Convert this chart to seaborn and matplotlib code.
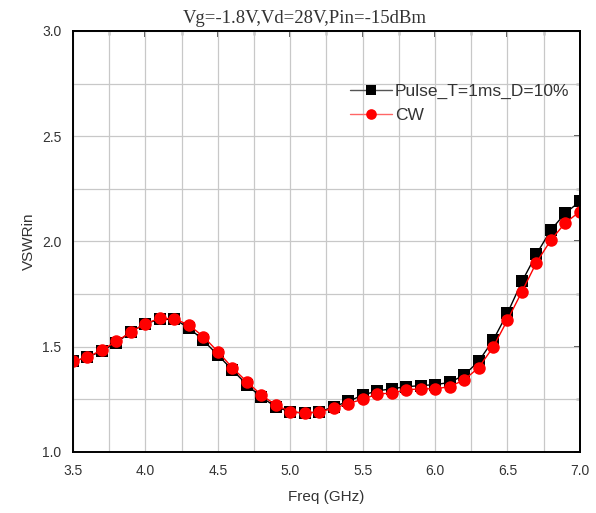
import numpy as np
import pandas as pd
import matplotlib
matplotlib.use("Agg")
import matplotlib.pyplot as plt
import seaborn as sns
from matplotlib.ticker import MultipleLocator, NullFormatter

# Frequency sweep (GHz)
freq = [3.5, 3.6, 3.7, 3.8, 3.9, 4.0, 4.1, 4.2, 4.3, 4.4, 4.5, 4.6,
        4.7, 4.8, 4.9, 5.0, 5.1, 5.2, 5.3, 5.4, 5.5, 5.6, 5.7, 5.8,
        5.9, 6.0, 6.1, 6.2, 6.3, 6.4, 6.5, 6.6, 6.7, 6.8, 6.9, 7.0]

# Input VSWR, pulsed (T=1ms, D=10%)
vswr_pulse = [1.43, 1.45, 1.48, 1.52, 1.57, 1.61, 1.63, 1.63, 1.59, 1.53, 1.46, 1.39,
              1.32, 1.26, 1.215, 1.19, 1.185, 1.19, 1.215, 1.24, 1.27, 1.29, 1.30, 1.31,
              1.315, 1.32, 1.33, 1.365, 1.43, 1.53, 1.66, 1.81, 1.94, 2.055, 2.135, 2.19]

# Input VSWR, CW
vswr_cw = [1.43, 1.45, 1.485, 1.525, 1.57, 1.61, 1.635, 1.633, 1.603, 1.548, 1.477, 1.40,
           1.334, 1.271, 1.223, 1.192, 1.184, 1.19, 1.207, 1.23, 1.25, 1.275, 1.28, 1.295,
           1.30, 1.30, 1.31, 1.342, 1.40, 1.497, 1.627, 1.762, 1.90, 2.007, 2.089, 2.142]

sns.set_style("white")
plt.rcParams['font.family'] = ['Liberation Sans', 'DejaVu Sans']

fig = plt.figure(figsize=(5.96, 5.13), dpi=100)
ax = fig.add_axes([0.1225, 0.119, 0.8505, 0.8206])

sns.lineplot(x=freq, y=vswr_pulse, ax=ax, color="black", marker="s",
             markersize=8, linewidth=1.0, markeredgewidth=0,
             label="Pulse_T=1ms_D=10%")
sns.lineplot(x=freq, y=vswr_cw, ax=ax, color="#ff0000", marker="o",
             markersize=9, linewidth=1.0, markeredgewidth=0,
             label="CW")

ax.set_xlim(3.5, 7.0)
ax.set_ylim(1.0, 3.0)
for a in (ax.xaxis, ax.yaxis):
    a.set_major_locator(MultipleLocator(0.5))
    a.set_minor_locator(MultipleLocator(0.25))
ax.grid(True, which="both", color="#c8c8c8", linewidth=0.9)
ax.set_axisbelow(True)

for s in ax.spines.values():
    s.set_color("black")
    s.set_linewidth(1.4)
ax.tick_params(which="major", direction="out", length=5, width=1.2,
               labelsize=10, colors="black", labelcolor="#333333")
ax.tick_params(which="minor", direction="out", length=3, width=1.0)

# inward ticks on top and right edges
top = ax.secondary_xaxis("top")
right = ax.secondary_yaxis("right")
for sec, axis in ((top, top.xaxis), (right, right.yaxis)):
    axis.set_major_locator(MultipleLocator(0.5))
    axis.set_minor_locator(MultipleLocator(0.25))
    axis.set_major_formatter(NullFormatter())
    sec.tick_params(which="major", direction="in", length=4, width=1.1)
    sec.tick_params(which="minor", direction="in", length=3, width=1.0)
    for s in sec.spines.values():
        s.set_linewidth(1.4)

ax.set_xlabel("Freq (GHz)", fontsize=11, color="#333333", labelpad=9)
ax.set_ylabel("VSWRin", fontsize=11, color="#333333")
ax.set_title("Vg=-1.8V,Vd=28V,Pin=-15dBm", fontsize=13.5, x=0.458,
             family=["Liberation Serif", "DejaVu Serif"], color="#333333", pad=6)

leg = ax.legend(loc="upper right", bbox_to_anchor=(1.0, 0.9), frameon=False,
                fontsize=12.5, handlelength=2.4, handletextpad=0.2,
                labelspacing=0.5, borderaxespad=0.2, markerscale=0.85)
leg.get_lines()[0].set_color("#555555")
leg.get_lines()[0].set_markerfacecolor("black")
leg.get_lines()[1].set_color("#ff6666")
leg.get_lines()[1].set_markerfacecolor("#ff0000")
for t in leg.get_texts():
    t.set_color("#333333")

fig.savefig("out.png", dpi=100)
